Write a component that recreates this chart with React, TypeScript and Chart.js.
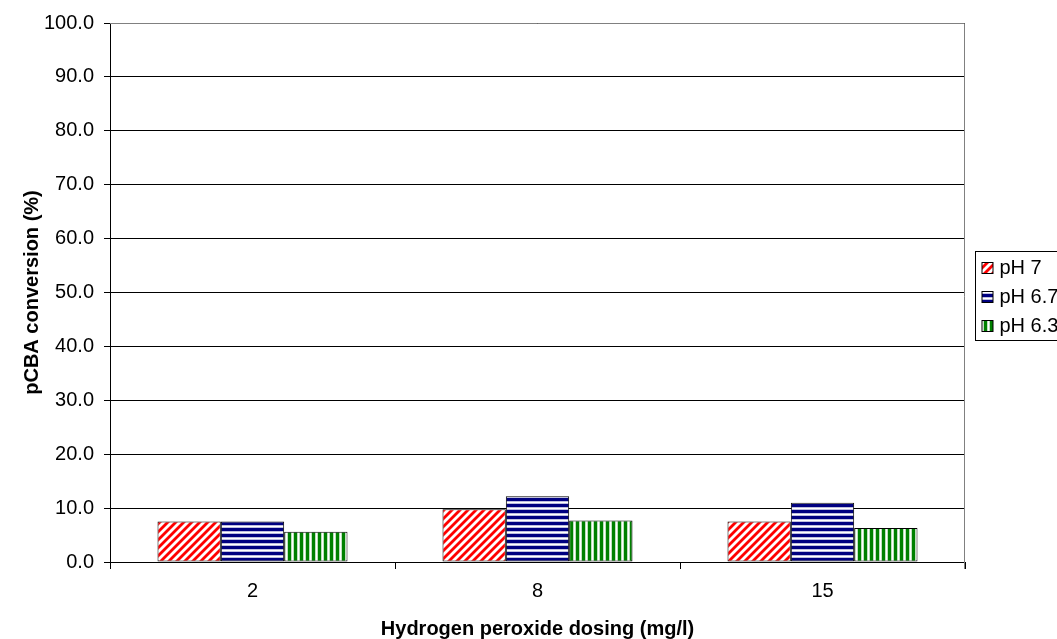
import { useEffect, useRef } from 'react';
import { Chart, registerables } from 'chart.js';

Chart.register(...registerables);

// Hydrogen peroxide doses (mg/l) on the category axis
const doses = ['2', '8', '15'];

// pCBA conversion (%) for each pH
const seriesNames = ['pH 7', 'pH 6.7', 'pH 6.3'];
const convPh70 = [7.5, 9.8, 7.5];
const convPh67 = [7.5, 12.2, 11.0];
const convPh63 = [5.6, 7.7, 6.3];

// value axis range and step
const yMin = 0;
const yMax = 100;
const yStep = 10;

const FONT = "'Liberation Sans', Arial, Helvetica, sans-serif";

type Kind = 'diag' | 'horiz' | 'vert';

// Small hatch tiles, blended pixel by pixel so the stripes look like the classic fill patterns.
function makeHatch(kind: Kind, rgb: [number, number, number]): CanvasPattern {
  const n = kind === 'diag' ? 8 : 6;
  const tile = document.createElement('canvas');
  tile.width = n;
  tile.height = n;
  const tctx = tile.getContext('2d')!;
  const img = tctx.createImageData(n, n);
  for (let y = 0; y < n; y++) {
    for (let x = 0; x < n; x++) {
      let t = 0;
      if (kind === 'diag') {
        const d = (x + y) % n;
        t = d <= 2 ? 1 : d === 3 || d === 7 ? 0.5 : 0;
      } else {
        const d = kind === 'horiz' ? y : x;
        t = d <= 2 ? 1 : d === 4 ? 0 : 0.25;
      }
      const i = (y * n + x) * 4;
      img.data[i] = Math.round(255 + (rgb[0] - 255) * t);
      img.data[i + 1] = Math.round(255 + (rgb[1] - 255) * t);
      img.data[i + 2] = Math.round(255 + (rgb[2] - 255) * t);
      img.data[i + 3] = 255;
    }
  }
  tctx.putImageData(img, 0, 0);
  return tctx.createPattern(tile, 'repeat')!;
}

// Grey frame along the top and right of the plot area
const plotFrame = {
  id: 'plotFrame',
  beforeDatasetsDraw(chart: any) {
    const { ctx, chartArea } = chart;
    const { left, right, top, bottom } = chartArea;
    ctx.save();
    ctx.strokeStyle = '#808080';
    ctx.lineWidth = 1;
    ctx.beginPath();
    ctx.moveTo(left, Math.round(top) + 0.5);
    ctx.lineTo(Math.round(right) - 0.5, Math.round(top) + 0.5);
    ctx.lineTo(Math.round(right) - 0.5, Math.round(bottom) + 7);
    ctx.stroke();
    ctx.restore();
  },
};

// Boxed legend to the right of the plot
const sideLegend = {
  id: 'sideLegend',
  afterDraw(chart: any) {
    const { ctx, chartArea } = chart;
    const boxLeft = Math.round(chartArea.right) + 10.5;
    const boxTop = Math.round(chartArea.top) + 228.5;
    const rowGap = 29;
    const firstRow = boxTop + 16;
    const items = chart.data.datasets;
    ctx.save();
    ctx.strokeStyle = '#000';
    ctx.lineWidth = 1;
    ctx.strokeRect(boxLeft, boxTop, 200, rowGap * items.length + 2);
    items.forEach((ds: any, i: number) => {
      const cy = firstRow + i * rowGap;
      const sx = boxLeft + 6.5;
      const sy = Math.round(cy - 6) + 0.5;
      ctx.fillStyle = ds.backgroundColor;
      ctx.fillRect(sx, sy, 11, 11);
      ctx.strokeStyle = '#000';
      ctx.strokeRect(sx, sy, 11, 11);
      ctx.fillStyle = '#000';
      ctx.font = `20px ${FONT}`;
      ctx.textBaseline = 'middle';
      ctx.textAlign = 'left';
      ctx.fillText(ds.label, boxLeft + 24, cy + 1);
    });
    ctx.restore();
  },
};

export default function App() {
  const canvasRef = useRef<HTMLCanvasElement>(null);

  useEffect(() => {
    document.body.style.margin = '0';
    document.body.style.overflow = 'hidden';
    const canvas = canvasRef.current;
    if (!canvas) return;

    Chart.defaults.font.family = FONT;
    Chart.defaults.color = '#000';

    const hatchRed = makeHatch('diag', [255, 0, 0]);
    const hatchNavy = makeHatch('horiz', [0, 0, 128]);
    const hatchGreen = makeHatch('vert', [0, 128, 0]);

    const chart = new Chart(canvas, {
      type: 'bar',
      data: {
        labels: doses,
        datasets: [
          { label: seriesNames[0], data: convPh70, backgroundColor: hatchRed as any },
          { label: seriesNames[1], data: convPh67, backgroundColor: hatchNavy as any },
          { label: seriesNames[2], data: convPh63, backgroundColor: hatchGreen as any },
        ].map((d) => ({
          ...d,
          borderColor: '#000',
          borderWidth: 1,
          borderSkipped: false,
          categoryPercentage: 2 / 3,
          barPercentage: 1,
        })),
      },
      options: {
        responsive: false,
        animation: false,
        layout: { padding: { left: 0, top: 23, right: 92, bottom: 0 } },
        plugins: {
          legend: { display: false },
          tooltip: { enabled: false },
        },
        scales: {
          x: {
            afterFit: (scale: any) => {
              scale.height = 77;
            },
            grid: {
              offset: true,
              drawOnChartArea: false,
              drawTicks: true,
              tickLength: 7,
              color: '#000',
              tickColor: '#000',
            },
            border: { display: true, color: '#000', width: 1 },
            ticks: { font: { size: 20 }, padding: 10, color: '#000' },
            title: {
              display: true,
              text: 'Hydrogen peroxide dosing (mg/l)',
              font: { size: 20, weight: 'bold', lineHeight: 1 },
              padding: { top: 0, bottom: 0 },
              color: '#000',
            },
          },
          y: {
            min: yMin,
            max: yMax,
            afterFit: (scale: any) => {
              scale.width = 110;
            },
            grid: {
              color: '#000',
              tickColor: '#000',
              tickLength: 6,
              drawTicks: true,
            },
            border: { display: true, color: '#000', width: 1 },
            ticks: {
              stepSize: yStep,
              padding: 10,
              font: { size: 20 },
              color: '#000',
              callback: (v: any) => Number(v).toFixed(1),
            },
            title: {
              display: true,
              text: 'pCBA conversion (%)',
              font: { size: 20, weight: 'bold' },
              padding: { top: 20, bottom: 0 },
              color: '#000',
            },
          },
        },
      } as any,
      plugins: [plotFrame, sideLegend],
    });

    return () => chart.destroy();
  }, []);

  return <canvas ref={canvasRef} width={1057} height={639} style={{ display: 'block' }} />;
}
